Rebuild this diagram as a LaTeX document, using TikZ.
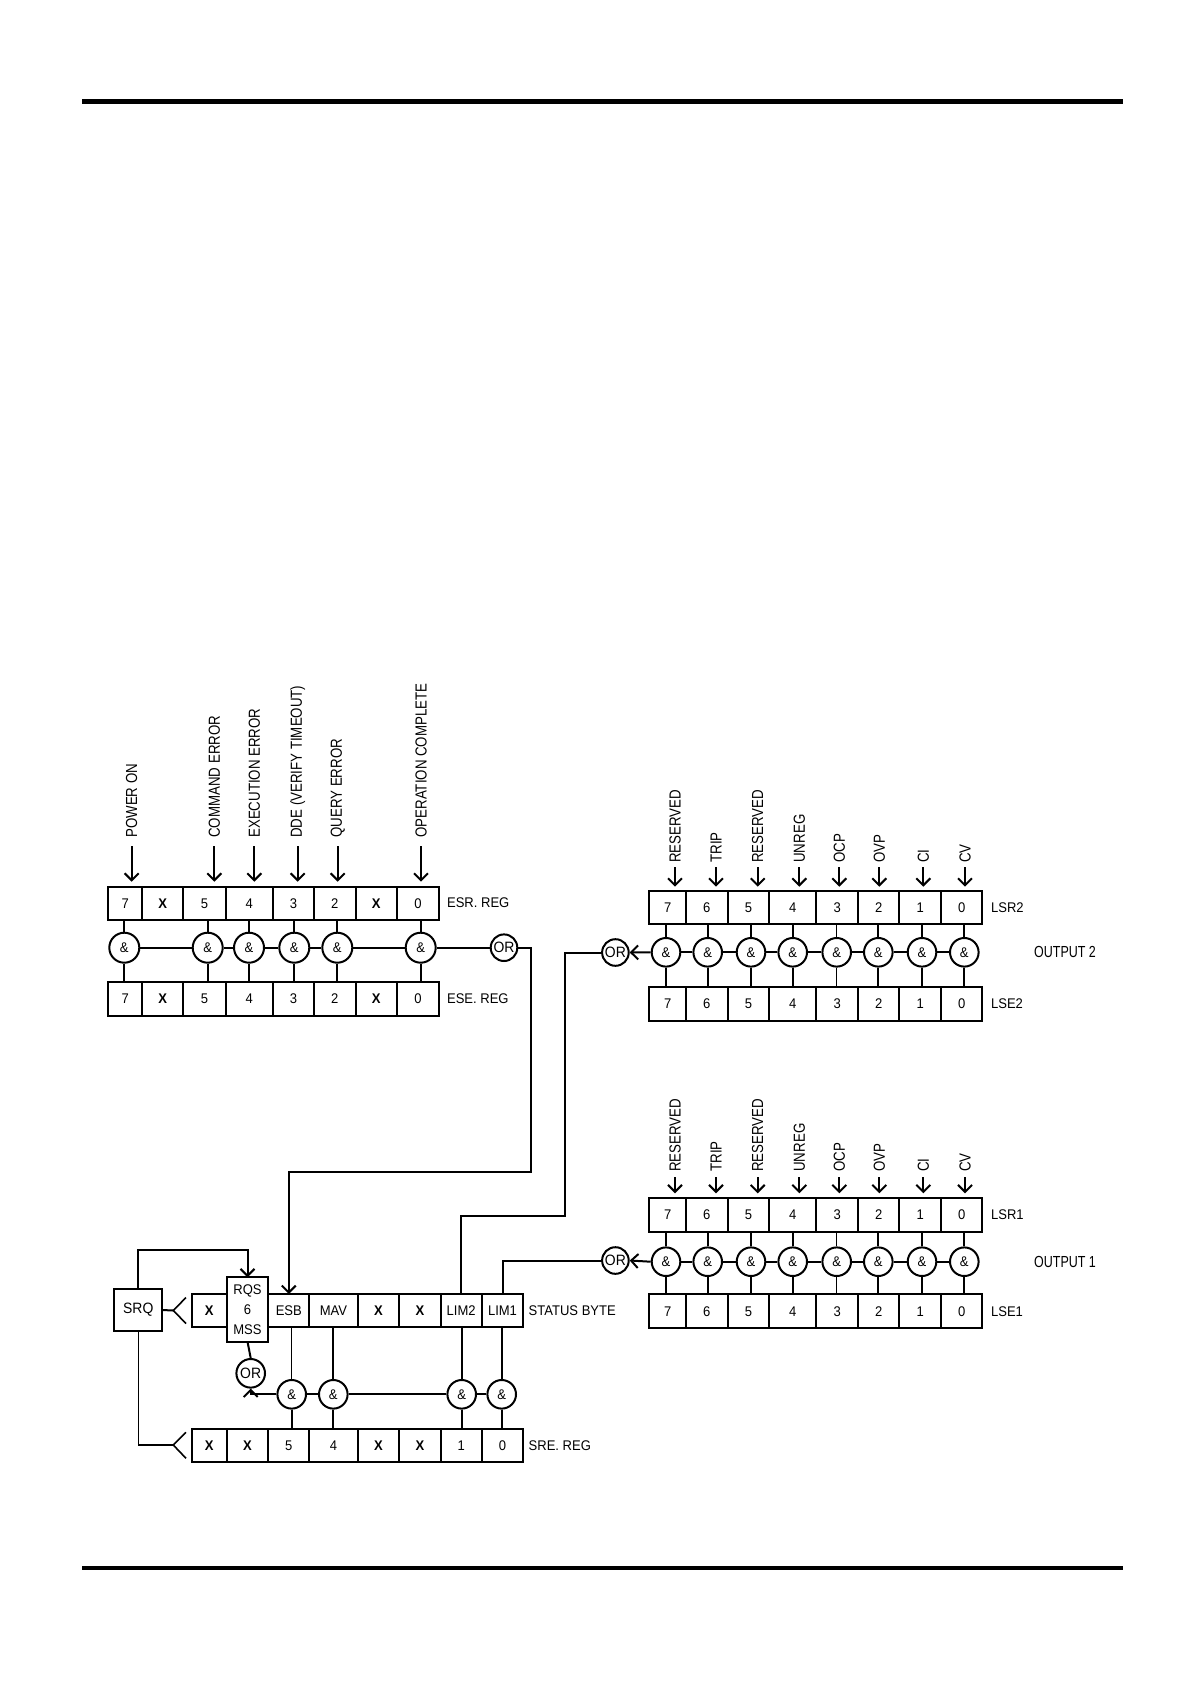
\documentclass[tikz,border=0pt]{standalone}
\usepackage{fontspec}
\setmainfont{Liberation Sans}[FakeStretch=0.93]
\newfontfamily\vfont{Liberation Sans}[FakeStretch=0.83]
\newfontfamily\ofont{Liberation Sans}[FakeStretch=0.78]
\usetikzlibrary{arrows.meta}
\newcommand\bx{\textbf{X}}
\newcommand\regrow[4]{%
  \foreach \xa/\xb/\t/\i in {#4} {%
    \node[cell, minimum width={(\xb-\xa)*0.5pt}, minimum height={(#3-#2)*0.5pt}]
      (#1-\i) at ({(\xa+\xb)/2},{(#2+#3)/2}) {\t};
  }}
\tikzset{
  cell/.style={draw, line width=1pt, inner sep=0pt, outer sep=0pt, font=\fontsize{7}{8}\selectfont},
  gate/.style={draw, circle, line width=1pt, minimum size=14.3pt, inner sep=0pt, fill=white, font=\fontsize{7}{8}\selectfont},
  esrgate/.style={gate, minimum size=15pt},
  orgate/.style={gate, minimum size=13.3pt, font=\fontsize{7.5}{8}\selectfont},
  wire/.style={line width=1pt},
  thinwire/.style={line width=0.5pt},
  arr/.style={wire, -{Straight Barb[length=3.5pt,width=7pt]}},
  vlab/.style={rotate=90, anchor=west, inner sep=0pt, font=\vfont\fontsize{8}{9}\selectfont},
  hlab/.style={anchor=west, inner sep=0pt, font=\fontsize{7}{8}\selectfont},
  olab/.style={inner sep=0pt, font=\ofont\fontsize{8}{9}\selectfont},
}
\begin{document}
\begin{tikzpicture}[x=0.5pt,y=-0.5pt]
\useasboundingbox (0,0) rectangle (1191,1684);
\fill[white] (0,0) rectangle (1191,1684);
% page rules
\draw[line width=2.5pt] (82,101.5) -- (1123,101.5);
\draw[line width=2pt] (82,1568) -- (1123,1568);

% ================= ESR / ESE =================
\regrow{esr}{886.7}{920}{108.3/142.3/7/7, 142.3/183.3/\bx/6, 183.3/225.7/5/5, 225.7/273/4/4, 273/314/3/3, 314/355.7/2/2, 355.7/396.7/\bx/1, 396.7/439.3/0/0}
\regrow{ese}{981.7}{1016}{108.3/142.3/7/7, 142.3/183.3/\bx/6, 183.3/225.7/5/5, 225.7/273/4/4, 273/314/3/3, 314/355.7/2/2, 355.7/396.7/\bx/1, 396.7/439.3/0/0}
\foreach \x/\i in {124.3/7,207.7/5,249/4,294.3/3,337.3/2,420.7/0} {
  \node[esrgate] (eg\i) at (\x,947.7) {\&};
  \draw[wire] (eg\i.north) -- (eg\i.north |- esr-\i.south);
  \draw[wire] (eg\i.south) -- (eg\i.south |- ese-\i.north);
}
\node[orgate] (esror) at (504,947.7) {OR};
\draw[wire] (eg7.east) -- (eg5.west) (eg5.east) -- (eg4.west) (eg4.east) -- (eg3.west)
  (eg3.east) -- (eg2.west) (eg2.east) -- (eg0.west) (eg0.east) -- (esror.west);
\foreach \x/\i/\t in {131.7/7/POWER ON, 214.3/5/COMMAND ERROR, 254.3/4/EXECUTION ERROR, 297.7/3/DDE (VERIFY TIMEOUT), 337.7/2/QUERY ERROR, 421/0/OPERATION COMPLETE} {
  \node[vlab] (el\i) at (\x,838) {\t};
  \draw[arr, shorten <=4pt, shorten >=2.5pt] (el\i.west) -- (el\i.west |- esr-\i.north);
}
\node[hlab] (esrlab) at (446.7,903) {ESR. REG};
\node[hlab] (eselab) at (446.7,999) {ESE. REG};

% ================= LSR2 / LSE2 =================
\regrow{ltr}{890.7}{924.3}{649.3/686/7/7, 686/727.7/6/6, 727.7/769.3/5/5, 769.3/816/4/4, 816/858.3/3/3, 858.3/899.3/2/2, 899.3/941/1/1, 941/982.3/0/0}
\regrow{lte}{987.3}{1020.7}{649.3/686/7/7, 686/727.7/6/6, 727.7/769.3/5/5, 769.3/816/4/4, 816/858.3/3/3, 858.3/899.3/2/2, 899.3/941/1/1, 941/982.3/0/0}
\foreach \x/\i in {666/7,707.7/6,751/5,792.7/4,878.3/2,922/1,964.3/0} {
  \node[gate] (tg\i) at (\x,952.3) {\&};
  \draw[wire] (tg\i.north) -- (tg\i.north |- ltr-\i.south);
  \draw[wire] (tg\i.south) -- (tg\i.south |- lte-\i.north);
}
\node[gate] (tg3) at (836.7,952.3) {\&};
\draw[thinwire] (tg3.north) -- (tg3.north |- ltr-3.south);
\draw[thinwire] (tg3.south) -- (tg3.south |- lte-3.north);
\node[orgate] (or2) at (615.4,952.5) {OR};
\draw[wire] (tg0.west) -- (tg1.east) (tg1.west) -- (tg2.east) (tg2.west) -- (tg3.east)
  (tg3.west) -- (tg4.east) (tg4.west) -- (tg5.east) (tg5.west) -- (tg6.east) (tg6.west) -- (tg7.east);
\draw[arr] (tg7.west) -- (or2.east);
\foreach \x/\i/\t in {675/7/RESERVED, 716/6/TRIP, 757.7/5/RESERVED, 799.3/4/UNREG, 839.3/3/OCP, 879.3/2/OVP, 923.3/1/CI, 965/0/CV} {
  \node[vlab] (tl\i) at (\x,863) {\t};
  \draw[arr, shorten <=2pt, shorten >=2pt] (tl\i.west) -- (tl\i.west |- ltr-\i.north);
}
\node[hlab] (ltrlab) at (990.7,907.5) {LSR2};
\node[hlab] (ltelab) at (990.7,1004) {LSE2};
\node[olab] (out2) at (1065,952) {OUTPUT 2};

% ================= LSR1 / LSE1 =================
\regrow{lor}{1197.7}{1231.7}{649.3/686/7/7, 686/727.7/6/6, 727.7/769.3/5/5, 769.3/816/4/4, 816/858.3/3/3, 858.3/899.3/2/2, 899.3/941/1/1, 941/982.3/0/0}
\regrow{loe}{1294.3}{1328.3}{649.3/686/7/7, 686/727.7/6/6, 727.7/769.3/5/5, 769.3/816/4/4, 816/858.3/3/3, 858.3/899.3/2/2, 899.3/941/1/1, 941/982.3/0/0}
\foreach \x/\i in {666/7,707.7/6,751/5,792.7/4,878.3/2,922/1,964.3/0} {
  \node[gate] (og\i) at (\x,1261.7) {\&};
  \draw[wire] (og\i.north) -- (og\i.north |- lor-\i.south);
  \draw[wire] (og\i.south) -- (og\i.south |- loe-\i.north);
}
\node[gate] (og3) at (836.7,1261.7) {\&};
\draw[thinwire] (og3.north) -- (og3.north |- lor-3.south);
\draw[thinwire] (og3.south) -- (og3.south |- loe-3.north);
\node[orgate] (or1) at (615.4,1260.5) {OR};
\draw[wire] (og0.west) -- (og1.east) (og1.west) -- (og2.east) (og2.west) -- (og3.east)
  (og3.west) -- (og4.east) (og4.west) -- (og5.east) (og5.west) -- (og6.east) (og6.west) -- (og7.east);
\draw[arr] (og7.west) -- (or1.east);
\foreach \x/\i/\t in {675/7/RESERVED, 716/6/TRIP, 757.7/5/RESERVED, 799.3/4/UNREG, 839.3/3/OCP, 879.3/2/OVP, 923.3/1/CI, 965/0/CV} {
  \node[vlab] (ol\i) at (\x,1172) {\t};
  \draw[arr, shorten <=2.5pt, shorten >=2.2pt] (ol\i.west) -- (ol\i.west |- lor-\i.north);
}
\node[hlab] (lorlab) at (990.7,1214.7) {LSR1};
\node[hlab] (loelab) at (990.7,1311.3) {LSE1};
\node[olab] (out1) at (1065,1262) {OUTPUT 1};

% ================= STATUS BYTE / SRE =================
\regrow{sb}{1294}{1327.3}{191.7/226.7/\bx/7, 268.3/309.3/ESB/5, 309.3/357.7/MAV/4, 357.7/399/\bx/3, 399/440.7/\bx/2, 440.7/481.7/LIM2/1, 481.7/523.3/LIM1/0}
\node[cell, minimum width=20.8pt, minimum height=32.2pt, align=center, font=\fontsize{7}{10}\selectfont] (sb-6) at (247.5,1309.5) {RQS\\6\\MSS};
\regrow{sre}{1429}{1461.7}{191.7/226.7/\bx/7, 226.7/268.3/\bx/6, 268.3/309.3/5/5, 309.3/357.7/4/4, 357.7/399/\bx/3, 399/440.7/\bx/2, 440.7/481.7/1/1, 481.7/523.3/0/0}
\node[hlab] (sblab) at (528.3,1310.7) {STATUS BYTE};
\node[hlab] (srelab) at (528.3,1445.3) {SRE. REG};

\node[orgate, minimum size=14.3pt] (sor) at (250.7,1373.3) {OR};
\foreach \x/\i in {291.7/5,333.3/4,461.7/1,501.7/0} {
  \node[gate] (sg\i) at (\x,1394.3) {\&};
  \draw[wire] (sg\i.south) -- (sg\i.south |- sre-\i.north);
}
\draw[thinwire] (sg5.north) -- (sg5.north |- sb-5.south);
\foreach \i in {4,1,0} { \draw[wire] (sg\i.north) -- (sg\i.north |- sb-\i.south); }
\draw[wire] (sg0.west) -- (sg1.east) (sg1.west) -- (sg4.east) (sg4.west) -- (sg5.east);
\draw[arr] (sg5.west) -| (sor.south);
\draw[wire] (sor.north) -- (sb-6.south);

% SRQ
\node[cell, minimum width=24pt, minimum height=21pt, font=\fontsize{7.5}{8}\selectfont] (srq) at (138.3,1310) {SRQ};
\coordinate (va) at (173.3,1310.5);
\coordinate (va1) at (186,1297.5);
\coordinate (va2) at (186,1323.5);
\coordinate (vb) at (173.3,1445);
\coordinate (vb1) at (186,1432.3);
\coordinate (vb2) at (186,1458.3);
\draw[wire] (srq.east) -- (va);
\draw[line width=0.8pt] (va1) -- (va) -- (va2);
\draw[line width=0.7pt] (srq.south) |- (vb);
\draw[line width=0.8pt] (vb1) -- (vb) -- (vb2);
\coordinate (srqtop) at (138.3,1250);
\draw[arr] (srq.north) -- (srqtop) -| (sb-6.north);

% connections from summaries into status byte
\coordinate (esbturn) at (531,1171.7);
\draw[arr] (esror.east) -| (esbturn) -| (sb-5.north);
\coordinate (ltturn) at (565,1216);
\draw[wire] (or2.west) -| (ltturn) -| (sb-1.north);
\draw[wire] (or1.west) -| (sb-0.north);
\end{tikzpicture}
\end{document}
